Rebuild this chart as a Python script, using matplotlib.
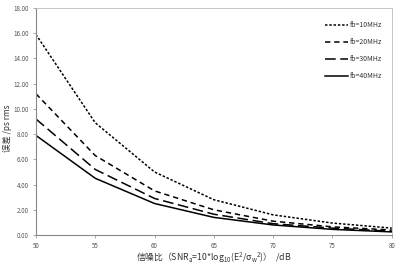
import matplotlib
matplotlib.use("Agg")
import matplotlib.pyplot as plt

# SNR (dB) on the x axis
snr = [50, 55, 60, 65, 70, 75, 80]

# error (ps rms) per bandwidth
err_10 = [15.9, 8.9, 5.0, 2.8, 1.6, 0.95, 0.55]
err_20 = [11.2, 6.3, 3.5, 2.0, 1.1, 0.65, 0.4]
err_30 = [9.2, 5.2, 2.9, 1.65, 0.9, 0.55, 0.3]
err_40 = [7.9, 4.5, 2.5, 1.4, 0.8, 0.45, 0.25]

labels = ["fb=10MHz", "fb=20MHz", "fb=30MHz", "fb=40MHz"]
y_ticks = [0, 2, 4, 6, 8, 10, 12, 14, 16, 18]

plt.rcParams['font.family'] = ['Noto Sans CJK SC', 'DejaVu Sans']
plt.rcParams['mathtext.default'] = 'regular'

fig = plt.figure(figsize=(3.99, 2.65), dpi=100)
ax = fig.add_axes([0.090, 0.113, 0.892, 0.857])

ax.plot(snr, err_10, color='black', lw=1.1, dashes=(1.6, 1.2), label=labels[0])
ax.plot(snr, err_20, color='black', lw=1.1, dashes=(3.5, 2.5), label=labels[1])
ax.plot(snr, err_30, color='black', lw=1.1, dashes=(7, 3), label=labels[2])
ax.plot(snr, err_40, color='black', lw=1.1, label=labels[3])

ax.set_xlim(50, 80)
ax.set_ylim(0, 18)
ax.set_xticks(snr)
ax.set_yticks(y_ticks)
ax.set_yticklabels(["%.2f" % v for v in y_ticks])
ax.tick_params(labelsize=4.5, length=2, width=0.5, color='#888888',
               labelcolor='#555555', pad=3)

for side in ['left', 'bottom']:
    ax.spines[side].set_color('#888888')
    ax.spines[side].set_linewidth(0.8)
for side in ['top', 'right']:
    ax.spines[side].set_color('#bbbbbb')
    ax.spines[side].set_linewidth(0.6)

ax.set_xlabel("信噪比（SNR$_a$=10*log$_{10}$(E$^2$/σ$_w$$^2$)）  /dB",
              fontsize=6.3, color='#333333')
ax.xaxis.set_label_coords(0.50, -0.068)
ax.set_ylabel("误差 /ps rms", fontsize=6, color='#333333')
ax.yaxis.set_label_coords(-0.066, 0.47)

ax.legend(loc='upper right', bbox_to_anchor=(0.99, 0.97), frameon=False,
          fontsize=5, handlelength=3.2, labelspacing=1.3, handletextpad=0.3,
          labelcolor='#333333')

fig.savefig("out.png", dpi=100)
